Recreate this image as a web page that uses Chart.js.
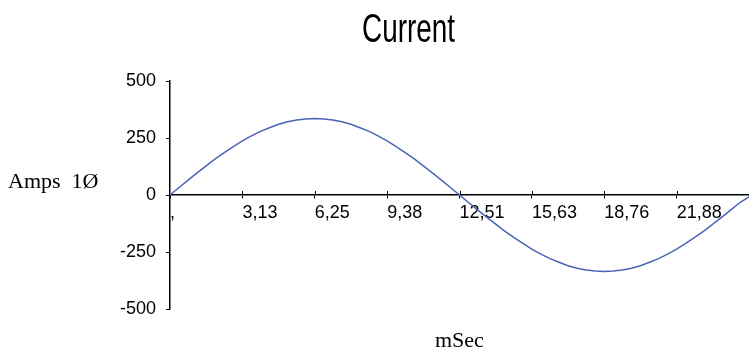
<!DOCTYPE html>
<html>
<head>
<meta charset="utf-8">
<script src="https://cdn.jsdelivr.net/npm/chart.js@4"></script>
<style>
  html, body { margin: 0; padding: 0; background: #fff; }
  #wrap { width: 749px; height: 355px; position: relative; }
</style>
</head>
<body>
<div id="wrap"><canvas id="currentChart" width="749" height="355"></canvas></div>
<script>
// Strom über eine Periode, 65 Abtastwerte (Amps)
const amps = [
  0, 33, 65, 97, 128, 158, 186, 212, 237, 259, 279, 295, 310, 321, 329, 333,
  335, 333, 329, 321, 310, 295, 279, 259, 237, 212, 186, 158, 128, 97, 65, 33,
  0, -33, -65, -97, -128, -158, -186, -212, -237, -259, -279, -295, -310, -321, -329, -333,
  -335, -333, -329, -321, -310, -295, -279, -259, -237, -212, -186, -158, -128, -97, -65, -33,
  -8
];

// nur jeder 8. Punkt bekommt eine Beschriftung
const msTicks = [",", "3,13", "6,25", "9,38", "12,51", "15,63", "18,76", "21,88"];
const pointsPerTick = 8;
const yTicks = [500, 250, 0, -250, -500];

const chartTitle = "Current";
const yTitle = "Amps  1\u00D8";
const xTitle = "mSec";

const labels = amps.map((_, i) => i);
const tickFont = { family: "'Liberation Sans Narrow', 'Liberation Sans', sans-serif", size: 18 };

// Texte selbst zeichnen (schmale Schrift wie im Original)
const textPlugin = {
  id: "texts",
  afterDraw(chart) {
    const ctx = chart.ctx;
    ctx.save();
    ctx.fillStyle = "#000";
    ctx.textBaseline = "alphabetic";

    // Titel, auf Breite gestaucht
    ctx.font = "40px 'Liberation Sans Narrow', 'Liberation Sans', sans-serif";
    const w = ctx.measureText(chartTitle).width;
    ctx.save();
    ctx.translate(362, 42);
    ctx.scale(93 / w, 1);
    ctx.fillText(chartTitle, 0, 0);
    ctx.restore();

    ctx.font = "22px 'Liberation Serif', 'Times New Roman', serif";
    ctx.fillText(yTitle, 8, 188);
    ctx.fillText(xTitle, 435, 347);

    // kleine Striche oberhalb der x-Achse (Original: Striche kreuzen die Achse)
    const x = chart.scales.x;
    const y0 = chart.scales.y.getPixelForValue(0);
    ctx.strokeStyle = "#000";
    ctx.lineWidth = 1;
    ctx.beginPath();
    for (let i = pointsPerTick; i < amps.length - 1; i += pointsPerTick) {
      const px = Math.round(x.getPixelForValue(i)) + 0.5;
      ctx.moveTo(px, y0 - 4);
      ctx.lineTo(px, y0);
    }
    ctx.stroke();
    ctx.restore();
  },
};

new Chart(document.getElementById("currentChart"), {
  type: "line",
  data: {
    labels,
    datasets: [
      {
        label: "Current",
        data: amps,
        borderColor: "#4a63b6",
        borderWidth: 1.5,
        pointRadius: 0,
        tension: 0,
        fill: false,
      },
    ],
  },
  options: {
    responsive: false,
    animation: false,
    layout: { padding: { top: 81, bottom: 46, left: 0, right: 0 } },
    plugins: {
      legend: { display: false },
      title: { display: false },
      tooltip: { enabled: false },
    },
    scales: {
      x: {
        type: "category",
        position: { y: 0 },
        offset: false,
        border: { display: true, color: "#000", width: 1.5 },
        grid: { drawOnChartArea: false, color: "#000", tickLength: 3, lineWidth: 1 },
        ticks: {
          autoSkip: false,
          maxRotation: 0,
          align: "start",
          padding: 4,
          color: "#000",
          font: tickFont,
          callback: (val, i) => (i % pointsPerTick === 0 ? msTicks[i / pointsPerTick] : null),
        },
      },
      y: {
        min: -500,
        max: 500,
        afterFit: (s) => { s.width = 170; },
        afterBuildTicks: (s) => { s.ticks = yTicks.map((v) => ({ value: v })); },
        border: { display: true, color: "#000", width: 1.5 },
        grid: { drawOnChartArea: false, color: "#000", tickLength: 4, lineWidth: 1 },
        ticks: {
          padding: 10,
          color: "#000",
          font: tickFont,
        },
      },
    },
  },
  plugins: [textPlugin],
});
</script>
</body>
</html>
